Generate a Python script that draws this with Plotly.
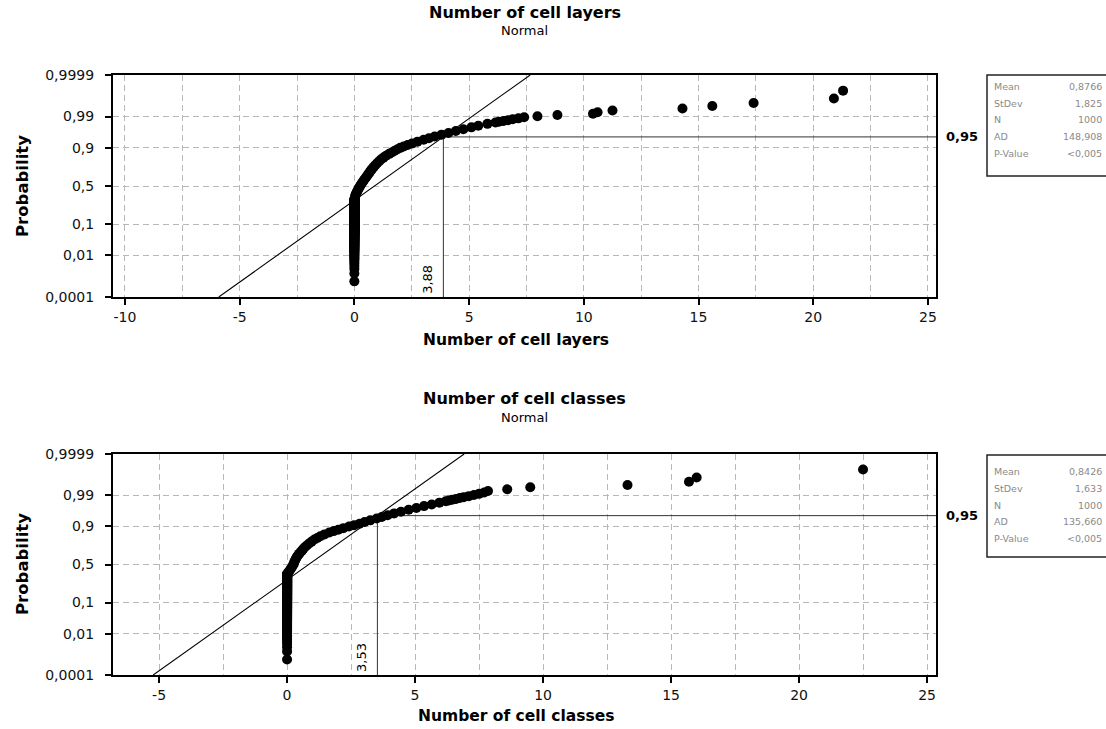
import plotly.graph_objects as go
from statistics import NormalDist

nd = NormalDist()

# ---------------- data ----------------
N_OBS = 1000
P_LEVELS = [0.0001, 0.01, 0.1, 0.5, 0.9, 0.99, 0.9999]
P_LABELS = ["0,0001", "0,01", "0,1", "0,5", "0,9", "0,99", "0,9999"]
X_TICKS = [-10, -5, 0, 5, 10, 15, 20, 25]
X_MINOR = [-7.5, -2.5, 2.5, 7.5, 12.5, 17.5, 22.5]

# Number of cell layers
layers_zero_count = 322
layers_ranks = [330, 345, 360, 375, 390, 405, 420, 440, 460, 480, 500, 520, 540, 560, 580,
                600, 620, 640, 660, 680, 700, 720, 740, 760, 780, 800, 815, 830, 845, 860,
                870, 880, 890, 900, 908, 916, 924, 932, 940, 946, 952, 958, 963, 968, 972,
                976, 979, 982, 984, 985, 986, 987, 988, 989, 990, 991, 992, 993, 994, 995,
                996, 997, 998, 999, 1000]
layers_values = [0.01, 0.02, 0.035, 0.045, 0.06, 0.085, 0.11, 0.14, 0.18, 0.21, 0.25, 0.29, 0.33, 0.38, 0.42,
                 0.47, 0.52, 0.57, 0.62, 0.67, 0.72, 0.78, 0.85, 0.92, 1.0, 1.09, 1.17, 1.27, 1.38, 1.52,
                 1.63, 1.74, 1.86, 2.0, 2.15, 2.32, 2.52, 2.75, 3.02, 3.25, 3.5, 3.8, 4.1, 4.42, 4.75,
                 5.1, 5.4, 5.8, 6.15, 6.3, 6.5, 6.7, 6.9, 7.15, 7.4, 7.98, 8.85, 10.4, 10.6, 11.25,
                 14.3, 15.6, 17.4, 20.9, 21.3]
layers_stats = {"Mean": "0,8766", "StDev": "1,825", "N": "1000", "AD": "148,908", "P-Value": "<0,005"}
layers_mean, layers_sd = 0.8766, 1.825

# Number of cell classes
classes_zero_count = 370
classes_ranks = [375, 390, 405, 420, 440, 460, 480, 500, 520, 540, 560, 580, 600, 620, 640,
                 660, 680, 700, 720, 740, 760, 780, 800, 815, 830, 845, 860, 870, 880, 890,
                 900, 908, 916, 924, 932, 940, 946, 952, 958, 963, 968, 972, 976, 979, 982,
                 984, 985, 986, 987, 988, 989, 990, 991, 992, 993, 994, 995, 996, 997, 998,
                 999, 1000]
classes_values = [0.02, 0.04, 0.07, 0.1, 0.14, 0.18, 0.21, 0.25, 0.27, 0.29, 0.32, 0.35, 0.38, 0.42, 0.47,
                  0.52, 0.58, 0.63, 0.69, 0.77, 0.86, 0.96, 1.07, 1.18, 1.3, 1.46, 1.65, 1.82, 2.0, 2.2,
                  2.42, 2.62, 2.83, 3.03, 3.25, 3.5, 3.7, 3.93, 4.18, 4.45, 4.75, 5.05, 5.35, 5.65, 5.95,
                  6.2, 6.32, 6.45, 6.6, 6.75, 6.9, 7.1, 7.3, 7.5, 7.7, 7.85, 8.6, 9.5, 13.3, 15.7,
                  16.0, 22.5]
classes_stats = {"Mean": "0,8426", "StDev": "1,633", "N": "1000", "AD": "135,660", "P-Value": "<0,005"}
classes_mean, classes_sd = 0.8426, 1.633

REF_P = 0.95

# ---------------- helpers ----------------
W, H = 1106, 729
ML, MR, MT, MB = 113, 170, 75, 54
PW, PH = W - ML - MR, H - MT - MB


def px(xp):
    return (xp - ML) / PW


def py(yp):
    return (H - MB - yp) / PH


def zq(p):
    return nd.inv_cdf(p)


def rank_z(r):
    return zq((r - 0.3) / (N_OBS + 0.4))


Z_LO, Z_HI = zq(P_LEVELS[0]), zq(P_LEVELS[-1])
FONT = "DejaVu Sans"
GRID = "#b8b8b8"
DASH = "6px,4px"

fig = go.Figure()

panels = [
    dict(name="Number of cell layers", zeros=layers_zero_count, ranks=layers_ranks, values=layers_values,
         mean=layers_mean, sd=layers_sd, stats=layers_stats, xa="x", ya="y", xrange=[-10.52, 25.35],
         dom=[py(297), 1.0], title_y=12, sub_y=30, xt_y=340, yt_y=186, lab="3,88",
         box=(75, 176), rows=[86.7, 103.3, 120, 136.7, 153.3]),
    dict(name="Number of cell classes", zeros=classes_zero_count, ranks=classes_ranks, values=classes_values,
         mean=classes_mean, sd=classes_sd, stats=classes_stats, xa="x2", ya="y2", xrange=[-6.80, 25.35],
         dom=[0.0, py(454)], title_y=398, sub_y=417, xt_y=716, yt_y=564, lab="3,53",
         box=(455, 557), rows=[471.7, 488, 505, 521.7, 538]),
]

annotations = []
shapes = []

for i, pn in enumerate(panels):
    xs = [0.0] * pn["zeros"] + list(pn["values"])
    rk = list(range(1, pn["zeros"] + 1)) + list(pn["ranks"])
    ys = [rank_z(r) for r in rk]
    # fitted normal line
    fig.add_trace(go.Scatter(x=[pn["mean"] + pn["sd"] * Z_LO, pn["mean"] + pn["sd"] * Z_HI], y=[Z_LO, Z_HI],
                             mode="lines", line=dict(color="black", width=1.1), xaxis=pn["xa"], yaxis=pn["ya"],
                             showlegend=False, hoverinfo="skip"))
    # reference lines at 0.95
    z95 = zq(REF_P)
    x95 = pn["mean"] + pn["sd"] * z95
    fig.add_trace(go.Scatter(x=[x95, x95, pn["xrange"][1]], y=[Z_LO, z95, z95], mode="lines",
                             line=dict(color="#333333", width=1), xaxis=pn["xa"], yaxis=pn["ya"],
                             showlegend=False, hoverinfo="skip", cliponaxis=False))
    # data points
    fig.add_trace(go.Scatter(x=xs, y=ys, mode="markers", marker=dict(color="black", size=10),
                             xaxis=pn["xa"], yaxis=pn["ya"], showlegend=False))

    # titles
    annotations += [
        dict(text="<b>" + pn["name"] + "</b>", x=0.5, y=py(pn["title_y"]), xref="paper", yref="paper",
             showarrow=False, xanchor="center", yanchor="middle", font=dict(family=FONT, size=16, color="black")),
        dict(text="Normal", x=0.5, y=py(pn["sub_y"]), xref="paper", yref="paper",
             showarrow=False, xanchor="center", yanchor="middle", font=dict(family=FONT, size=13, color="black")),
        dict(text="<b>" + pn["name"] + "</b>", x=0.49, y=py(pn["xt_y"]), xref="paper", yref="paper",
             showarrow=False, xanchor="center", yanchor="middle", font=dict(family=FONT, size=15.5, color="black")),
        dict(text="<b>Probability</b>", x=px(22), y=py(pn["yt_y"]), xref="paper", yref="paper", textangle=-90,
             showarrow=False, xanchor="center", yanchor="middle", font=dict(family=FONT, size=16.5, color="black")),
        dict(text="<b>0,95</b>", x=px(944), y=z95, xref="paper", yref=pn["ya"], showarrow=False,
             xanchor="left", yanchor="middle", font=dict(family=FONT, size=13, color="black")),
        dict(text=pn["lab"], x=x95, y=Z_LO, xref=pn["xa"], yref=pn["ya"], showarrow=False, textangle=-90,
             xanchor="center", yanchor="bottom", xshift=-16, yshift=1, font=dict(family=FONT, size=13, color="black")),
    ]
    # stats box
    bt, bb = pn["box"]
    shapes.append(dict(type="rect", xref="paper", yref="paper", x0=px(987), x1=px(1140), y0=py(bb), y1=py(bt),
                       line=dict(color="#222222", width=1.5), fillcolor="white", layer="above"))
    for (k, v), ry in zip(pn["stats"].items(), pn["rows"]):
        annotations.append(dict(text=k, x=px(992), y=py(ry), xref="paper", yref="paper", showarrow=False,
                                xanchor="left", yanchor="middle", font=dict(family=FONT, size=9.5, color="#8a8a8a")))
        annotations.append(dict(text=v, x=px(1104), y=py(ry), xref="paper", yref="paper", showarrow=False,
                                xanchor="right", yanchor="middle", font=dict(family=FONT, size=9.5, color="#8a8a8a")))

axis_common = dict(showline=True, mirror=True, linecolor="black", linewidth=2, ticks="outside", ticklen=6,
                   tickwidth=1.5, tickcolor="black", showgrid=True, gridcolor=GRID, griddash=DASH,
                   gridwidth=1, zeroline=False, tickfont=dict(family=FONT, size=14, color="#111111"))

xcommon = dict(axis_common, tickmode="array", tickvals=X_TICKS, ticktext=[str(t) for t in X_TICKS],
               minor=dict(tickvals=X_MINOR, showgrid=True, gridcolor=GRID, griddash=DASH, gridwidth=1,
                          ticks=""))
ycommon = dict(axis_common, tickmode="array", tickvals=[zq(p) for p in P_LEVELS], ticktext=P_LABELS,
               range=[Z_LO, Z_HI], ticklabelstandoff=8)

fig.update_layout(
    width=W, height=H, autosize=False,
    margin=dict(l=ML, r=MR, t=MT, b=MB),
    paper_bgcolor="white", plot_bgcolor="white",
    showlegend=False,
    xaxis=dict(xcommon, domain=[0, 1], anchor="y", range=panels[0]["xrange"]),
    yaxis=dict(ycommon, domain=panels[0]["dom"], anchor="x"),
    xaxis2=dict(xcommon, domain=[0, 1], anchor="y2", range=panels[1]["xrange"]),
    yaxis2=dict(ycommon, domain=panels[1]["dom"], anchor="x2"),
    annotations=annotations,
    shapes=shapes,
)

fig.write_html("out.html", config={"displayModeBar": False},
               post_script="document.body.style.margin='0px';document.body.style.overflow='hidden';")
